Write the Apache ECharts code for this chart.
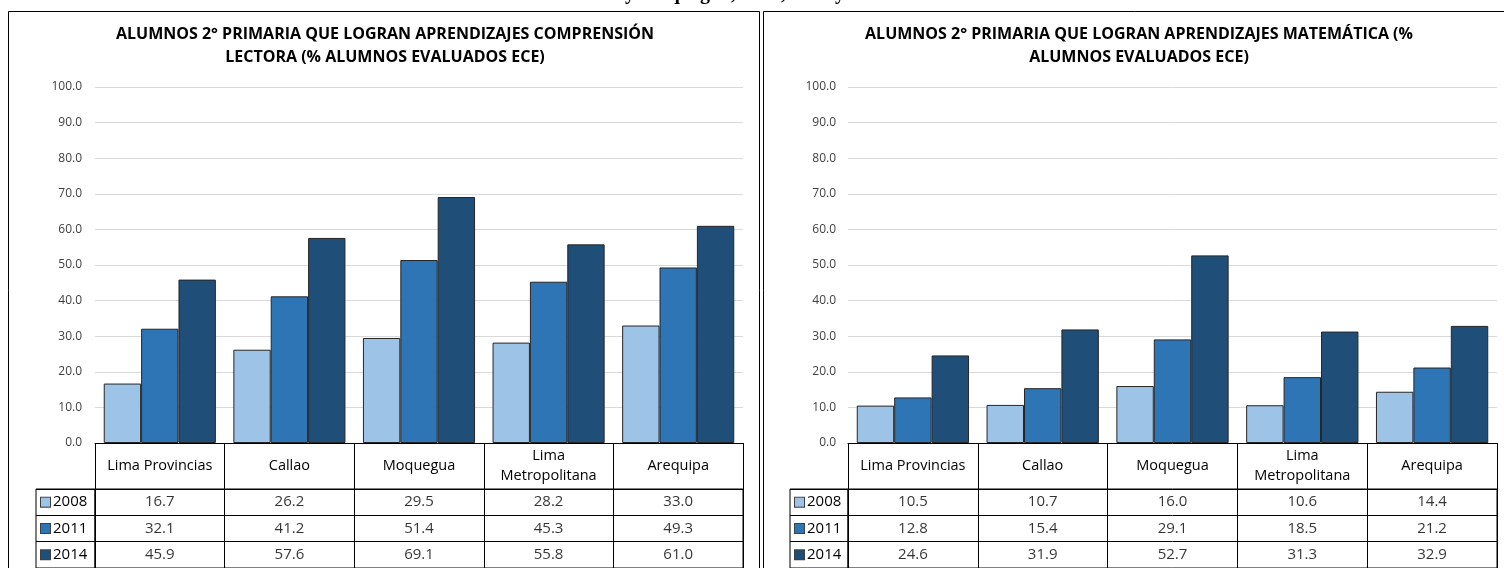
<!DOCTYPE html>
<html>
<head>
<meta charset="utf-8">
<script src="https://cdn.jsdelivr.net/npm/echarts@6/dist/echarts.min.js"></script>
<style>
  html, body { margin: 0; padding: 0; background: #fff; }
  #chart { width: 1504px; height: 568px; }
</style>
</head>
<body>
<div id="chart"></div>
<script>
// regiones (eje x) y años (series)
const categories = ['Lima Provincias', 'Callao', 'Moquegua', 'Lima\nMetropolitana', 'Arequipa'];
const years = ['2008', '2011', '2014'];
const colors = ['#9DC3E6', '#2E75B6', '#1F4E79'];

// comprensión lectora (%)
const lectora2008 = [16.7, 26.2, 29.5, 28.2, 33.0];
const lectora2011 = [32.1, 41.2, 51.4, 45.3, 49.3];
const lectora2014 = [45.9, 57.6, 69.1, 55.8, 61.0];

// matemática (%)
const mate2008 = [10.5, 10.7, 16.0, 10.6, 14.4];
const mate2011 = [12.8, 15.4, 29.1, 18.5, 21.2];
const mate2014 = [24.6, 31.9, 52.7, 31.3, 32.9];

// eje y
const yMin = 0, yMax = 100, yStep = 10;

const FONT = '"Open Sans", sans-serif';

// posiciones de cada panel: grafico, tabla, columna de leyenda
const panels = [
  { title: 'ALUMNOS 2° PRIMARIA QUE LOGRAN APRENDIZAJES COMPRENSIÓN\nLECTORA (% ALUMNOS EVALUADOS ECE)',
    cx: 385, left: 95, width: 648, legLeft: 36, legWidth: 59, yMargin: 13,
    data: [lectora2008, lectora2011, lectora2014] },
  { title: 'ALUMNOS 2° PRIMARIA QUE LOGRAN APRENDIZAJES MATEMÁTICA (%\nALUMNOS EVALUADOS ECE)',
    cx: 1139, left: 848, width: 649, legLeft: 790, legWidth: 58, yMargin: 12,
    data: [mate2008, mate2011, mate2014] }
];

const grid = [], xAxis = [], yAxis = [], series = [], graphic = [];

panels.forEach((p, k) => {
  const g = k * 3;
  // grafico de barras
  grid.push({ left: p.left, width: p.width, top: 87, height: 356 });
  // tabla de datos
  grid.push({ left: p.left, width: p.width, top: 489, height: 79, show: true, borderColor: '#000', borderWidth: 1 });
  // columna de leyenda
  grid.push({ left: p.legLeft, width: p.legWidth, top: 489, height: 79, show: true, borderColor: '#000', borderWidth: 1 });

  xAxis.push({
    type: 'category', gridIndex: g, data: categories,
    axisLine: { lineStyle: { color: '#000', width: 1 } },
    axisTick: { show: true, length: 46, lineStyle: { color: '#000' } },
    axisLabel: { margin: 23, verticalAlign: 'middle', color: '#000', fontFamily: FONT, fontSize: 14.5, lineHeight: 20, interval: 0 }
  });
  xAxis.push({
    type: 'category', gridIndex: g + 1, data: categories,
    axisLine: { show: false }, axisTick: { show: false }, axisLabel: { show: false },
    splitLine: { show: true, interval: 0, lineStyle: { color: '#000' } }
  });
  xAxis.push({
    type: 'category', gridIndex: g + 2, data: [''],
    axisLine: { show: false }, axisTick: { show: false }, axisLabel: { show: false }
  });

  yAxis.push({
    type: 'value', gridIndex: g, min: yMin, max: yMax, interval: yStep,
    axisLine: { show: false }, axisTick: { show: false },
    splitLine: { lineStyle: { color: '#D9D9D9' } },
    axisLabel: { margin: p.yMargin, color: '#404040', fontFamily: FONT, fontSize: 12, formatter: v => v.toFixed(1) }
  });
  yAxis.push({
    type: 'category', gridIndex: g + 1, data: years, inverse: true,
    axisLine: { show: false }, axisTick: { show: false }, axisLabel: { show: false },
    splitLine: { show: true, interval: 0, lineStyle: { color: '#000' } }
  });
  yAxis.push({
    type: 'category', gridIndex: g + 2, data: years, inverse: true,
    axisLine: { show: false }, axisTick: { show: false },
    splitLine: { show: true, interval: 0, lineStyle: { color: '#000' } },
    axisLabel: {
      inside: true, margin: 5, color: '#000', fontFamily: FONT, fontSize: 15,
      formatter: (v, i) => '{s' + i + '|}{t|' + v + '}',
      rich: {
        s0: { width: 9, height: 9, backgroundColor: colors[0], borderColor: '#404040', borderWidth: 1 },
        s1: { width: 9, height: 9, backgroundColor: colors[1], borderColor: '#404040', borderWidth: 1 },
        s2: { width: 9, height: 9, backgroundColor: colors[2], borderColor: '#404040', borderWidth: 1 },
        t: { fontFamily: FONT, fontSize: 15, color: '#000', padding: [0, 0, 0, 3] }
      }
    }
  });

  years.forEach((yr, s) => {
    series.push({
      name: yr, type: 'bar', xAxisIndex: g, yAxisIndex: g,
      data: p.data[s], barGap: '0%', barCategoryGap: '13.5%',
      itemStyle: { color: colors[s], borderColor: '#262626', borderWidth: 1 }
    });
    // valores de la tabla
    series.push({
      type: 'scatter', xAxisIndex: g + 1, yAxisIndex: g + 1, symbolSize: 1,
      itemStyle: { color: 'rgba(0,0,0,0)' },
      data: p.data[s].map((v, i) => [i, s, v]),
      label: { show: true, position: 'inside', color: '#000', fontFamily: FONT, fontSize: 15,
        formatter: q => q.value[2].toFixed(1) }
    });
  });

  graphic.push({
    type: 'text', x: p.cx, y: 23,
    style: { text: p.title, textAlign: 'center', textVerticalAlign: 'top', fill: '#000',
      font: 'bold 16px "Open Sans", sans-serif', lineHeight: 23 }
  });
});

// marcos de los paneles
graphic.push({ type: 'rect', shape: { x: 8.5, y: 11.5, width: 751, height: 600 }, style: { fill: 'none', stroke: '#000', lineWidth: 1 }, z: -1 });
graphic.push({ type: 'rect', shape: { x: 763.5, y: 11.5, width: 800, height: 600 }, style: { fill: 'none', stroke: '#000', lineWidth: 1 }, z: -1 });
// titulo general cortado arriba
graphic.push({ type: 'text', x: 890, y: 4, style: { text: 'y Moquegua, 2008, 2011 y 2014', textAlign: 'right', textVerticalAlign: 'bottom', fill: '#000', font: 'bold 20px "Liberation Serif", serif' } });

const chart = echarts.init(document.getElementById('chart'));
chart.setOption({
  animation: false,
  grid: grid,
  xAxis: xAxis,
  yAxis: yAxis,
  series: series,
  graphic: graphic
});
</script>
</body>
</html>
